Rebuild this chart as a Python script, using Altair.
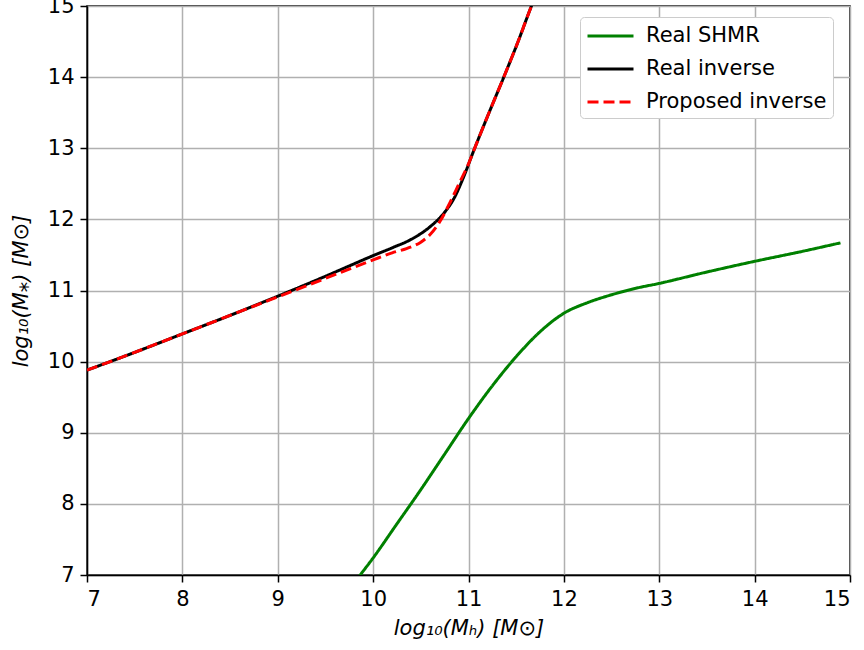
import altair as alt
import pandas as pd

# Real SHMR (green): log10(Mh) -> log10(M*)
shmr_x = [9.70, 9.865, 10.0, 10.25, 10.5, 10.75, 11.0, 11.25, 11.5, 11.75, 12.0, 12.25, 12.5, 12.75, 13.0, 13.5, 14.0, 14.5, 14.9]
shmr_y = [6.70, 7.0, 7.24, 7.72, 8.20, 8.70, 9.20, 9.66, 10.07, 10.42, 10.68, 10.83, 10.94, 11.03, 11.10, 11.26, 11.41, 11.55, 11.67]

# Real inverse (black)
inv_x = [7.0, 7.5, 8.0, 8.5, 9.0, 9.5, 10.0, 10.2, 10.4, 10.6, 10.75, 10.85, 10.95, 11.05, 11.2, 11.37, 11.52, 11.66, 11.72]
inv_y = [9.88, 10.13, 10.39, 10.65, 10.92, 11.20, 11.49, 11.60, 11.72, 11.90, 12.10, 12.30, 12.60, 12.95, 13.45, 14.0, 14.5, 15.0, 15.2]

# Proposed inverse (red dashed)
prop_x = [7.0, 7.5, 8.0, 8.5, 9.0, 9.5, 10.0, 10.2, 10.35, 10.5, 10.6, 10.7, 10.8, 10.9, 11.0, 11.05, 11.2, 11.37, 11.52, 11.66, 11.72]
prop_y = [9.88, 10.13, 10.39, 10.65, 10.91, 11.17, 11.43, 11.53, 11.59, 11.68, 11.79, 11.97, 12.22, 12.50, 12.78, 12.95, 13.45, 14.0, 14.5, 15.0, 15.2]

series_names = ["Real SHMR", "Real inverse", "Proposed inverse"]
series_colors = ["green", "black", "red"]
series_dash = [[1, 0], [1, 0], [11, 5]]
tick_values = [7, 8, 9, 10, 11, 12, 13, 14, 15]

rows = []
for name, xs, ys in zip(series_names, [shmr_x, inv_x, prop_x], [shmr_y, inv_y, prop_y]):
    for i, (a, b) in enumerate(zip(xs, ys)):
        rows.append({"series": name, "x": a, "y": b, "i": i})
df = pd.DataFrame(rows)

FONT = "DejaVu Sans"

xenc = alt.X("x:Q", scale=alt.Scale(domain=[7, 15], nice=False, zero=False),
             axis=alt.Axis(values=tick_values, title="log₁₀(Mₕ) [M⊙]", format="d",
                           titleFontStyle="italic", titleFontWeight="normal",
                           titlePadding=8))
yenc = alt.Y("y:Q", scale=alt.Scale(domain=[7, 15], nice=False, zero=False),
             axis=alt.Axis(values=tick_values, title="log₁₀(M⁎) [M⊙]", format="d",
                           titleFontStyle="italic", titleFontWeight="normal",
                           titlePadding=16))
color = alt.Color("series:N",
                  scale=alt.Scale(domain=series_names, range=series_colors),
                  legend=alt.Legend(title=None, orient="none", legendX=493, legendY=11,
                                    symbolType="M-1,0L3,0", symbolSize=529,
                                    symbolStrokeWidth=3, symbolFillColor="transparent",
                                    labelFontSize=21,
                                    labelFont=FONT, labelOffset=34, rowPadding=10,
                                    labelLimit=400,
                                    padding=6, fillColor="white",
                                    strokeColor="#cccccc", cornerRadius=4))
dash = alt.StrokeDash("series:N",
                      scale=alt.Scale(domain=series_names, range=series_dash),
                      legend=None)

layers = []
for name in series_names:
    layers.append(
        alt.Chart(df).transform_filter(alt.datum.series == name)
        .mark_line(clip=True, strokeWidth=3, interpolate="monotone")
        .encode(x=xenc, y=yenc, color=color, strokeDash=dash, order="i:Q")
    )

chart = alt.layer(*layers).properties(
    width=763, height=569,
    autosize=alt.AutoSizeParams(type="none"),
    padding={"left": 87, "top": 6, "right": 14, "bottom": 75},
).configure_view(
    stroke="black", strokeWidth=1.5
).configure_axis(
    labelFont=FONT, titleFont=FONT, labelFontSize=21, titleFontSize=21,
    labelColor="black", titleColor="black",
    grid=True, gridColor="#b0b0b0", gridWidth=1.5,
    domainColor="black", domainWidth=1.5,
    tickColor="black", tickSize=7, tickWidth=1.5, labelPadding=6,
).configure_legend(
    labelColor="black"
)

chart.save("out.html", embed_options={"renderer": "svg", "actions": False})
